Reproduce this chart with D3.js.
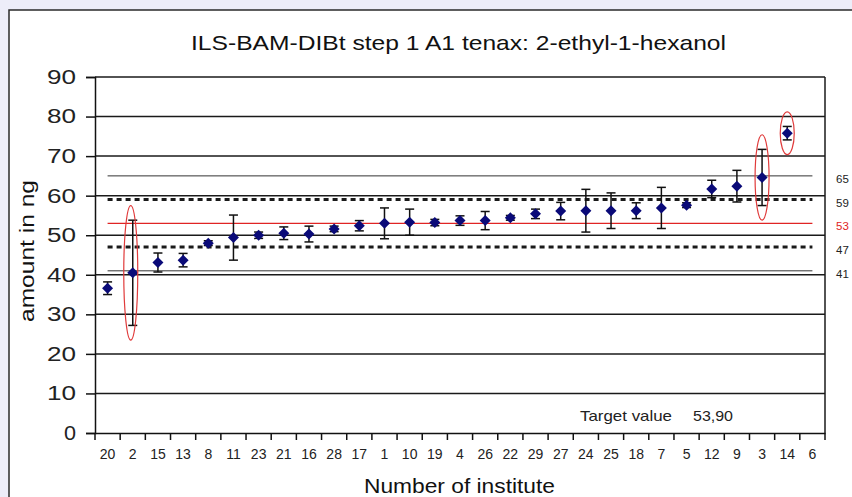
<!DOCTYPE html>
<html>
<head>
<meta charset="utf-8">
<script src="https://cdn.jsdelivr.net/npm/d3@7/dist/d3.min.js"></script>
<style>
  html, body { margin: 0; padding: 0; background: #ededf9; }
  svg { display: block; }
  text { font-family: "Liberation Sans", Arial, sans-serif; }
</style>
</head>
<body>
<svg id="chart" width="852" height="497"></svg>
<script>
const title = "ILS-BAM-DIBt step 1 A1 tenax: 2-ethyl-1-hexanol";
const categories = ["20","2","15","13","8","11","23","21","16","28","17","1","10","19","4","26","22","29","27","24","25","18","7","5","12","9","3","14","6"];
const means  = [36.6,40.5,43.1,43.7,48.0,49.4,50.0,50.5,50.3,51.6,52.4,53.0,53.3,53.2,53.7,53.7,54.4,55.4,56.1,56.2,56.2,56.2,56.9,57.6,61.7,62.4,64.6,75.8,null];
const errors = [1.6,13.3,2.4,1.7,0.6,5.7,0.8,1.6,2.0,0.7,1.3,3.9,3.3,0.8,1.2,2.3,0.6,1.2,2.2,5.4,4.5,2.0,5.2,0.6,2.2,4.0,7.1,1.7,null];
const yTicks = [0,10,20,30,40,50,60,70,80,90];
const refValues = [65,59,53,47,41];
const refKinds  = ["thin","dotted","target","dotted","thin"];
const outliers = ["2","3","14"];
const targetLabel = "Target value";
const targetText = "53,90";
const yTitle = "amount in ng";
const xTitle = "Number of institute";

const svg = d3.select("#chart");
const L = 95, R = 825, T = 77, B = 433;
const x = d3.scaleBand().domain(categories).range([L, R]).padding(0);
const y = d3.scaleLinear().domain([0, 90]).range([B, T]);
const cx = c => x(c) + x.bandwidth() / 2;

function fit(sel, len) { if (len) sel.attr("textLength", len).attr("lengthAdjust", "spacingAndGlyphs"); return sel; }

// frame
svg.append("rect").attr("x", 9).attr("y", 10).attr("width", 900).attr("height", 560)
  .attr("fill", "#ffffff").attr("stroke", "#2a2a2a").attr("stroke-width", 1.5);

// title
fit(svg.append("text").attr("x", 458.5).attr("y", 50).attr("text-anchor", "middle")
  .attr("font-size", 21).attr("fill", "#111").text(title), 535);

// gridlines
svg.append("g").selectAll("line").data(yTicks.filter(d => d > 0)).join("line")
  .attr("x1", L).attr("x2", R).attr("y1", d => y(d)).attr("y2", d => y(d))
  .attr("stroke", "#1a1a1a").attr("stroke-width", 1.5);
// right border
svg.append("line").attr("x1", R).attr("x2", R).attr("y1", T).attr("y2", B)
  .attr("stroke", "#1a1a1a").attr("stroke-width", 1.5);

// y axis
const yAxis = svg.append("g").attr("transform", `translate(${L},0)`)
  .call(d3.axisLeft(y).tickValues(yTicks).tickSize(9).tickPadding(10).tickFormat(d3.format("d")));
yAxis.select(".domain").attr("stroke", "#111").attr("stroke-width", 1.5);
yAxis.selectAll(".tick line").attr("stroke", "#111").attr("stroke-width", 1.5);
yAxis.selectAll(".tick text").attr("font-size", 20).attr("fill", "#222")
  .attr("font-family", "Liberation Sans, Arial, sans-serif")
  .each(function(d){ fit(d3.select(this), String(d).length === 2 ? 29 : 12); });

// x axis
const xAxis = svg.append("g").attr("transform", `translate(0,${B})`)
  .call(d3.axisBottom(x).tickSize(0).tickPadding(16));
xAxis.select(".domain").attr("stroke", "#111").attr("stroke-width", 1.5);
xAxis.selectAll(".tick text").attr("font-size", 14).attr("fill", "#222")
  .attr("font-family", "Liberation Sans, Arial, sans-serif");
const bounds = categories.map(c => x(c)).concat([R]);
svg.append("g").selectAll("line").data(bounds).join("line")
  .attr("x1", d => d).attr("x2", d => d).attr("y1", B).attr("y2", B + 7)
  .attr("stroke", "#111").attr("stroke-width", 1.5);

// reference lines
const x0 = cx(categories[0]), x1 = cx(categories[categories.length - 1]);
refValues.forEach((v, i) => {
  const k = refKinds[i];
  const ln = svg.append("line").attr("x1", x0).attr("x2", x1).attr("y1", y(v)).attr("y2", y(v));
  if (k === "thin") ln.attr("stroke", "#333").attr("stroke-width", 1);
  else if (k === "dotted") ln.attr("stroke", "#1a1a1a").attr("stroke-width", 3).attr("stroke-dasharray", "5,4");
  else ln.attr("stroke", "#e02424").attr("stroke-width", 1.3);
  svg.append("text").attr("x", 836).attr("y", y(v) + 7).attr("font-size", 11.5)
    .attr("fill", k === "target" ? "#e02424" : "#222").text(v);
});

// error bars
const pts = categories.map((c, i) => ({c, m: means[i], e: errors[i]})).filter(d => d.m != null);
const eb = svg.append("g").attr("stroke", "#111").attr("stroke-width", 1.5);
pts.forEach(d => {
  const xc = cx(d.c);
  eb.append("line").attr("x1", xc).attr("x2", xc).attr("y1", y(d.m - d.e)).attr("y2", y(d.m + d.e));
  [d.m - d.e, d.m + d.e].forEach(v => eb.append("line").attr("x1", xc - 4.5).attr("x2", xc + 4.5).attr("y1", y(v)).attr("y2", y(v)));
});

// diamonds
svg.append("g").selectAll("path").data(pts).join("path")
  .attr("d", d => { const X = cx(d.c), Y = y(d.m), h = 5.5; return `M${X},${Y-h}L${X+h},${Y}L${X},${Y+h}L${X-h},${Y}Z`; })
  .attr("fill", "#0a0a78");

// outlier ellipses
outliers.forEach(c => {
  const i = categories.indexOf(c);
  const ry = (y(0) - y(errors[i] + 3.7));
  svg.append("ellipse").attr("cx", cx(c) - (c === "2" ? 2 : 0)).attr("cy", y(means[i]))
    .attr("rx", Math.min(7, ry * 0.35)).attr("ry", ry)
    .attr("fill", "none").attr("stroke", "#e03a3a").attr("stroke-width", 1.2);
});

// target value
fit(svg.append("text").attr("x", 580).attr("y", 421).attr("font-size", 15).attr("fill", "#222").text(targetLabel), 92);
fit(svg.append("text").attr("x", 693).attr("y", 421).attr("font-size", 15).attr("fill", "#222").text(targetText), 40);

// axis titles
fit(svg.append("text").attr("x", 459.5).attr("y", 493).attr("text-anchor", "middle")
  .attr("font-size", 20).attr("fill", "#111").text(xTitle), 191);
fit(svg.append("text").attr("transform", "translate(34,251) rotate(-90)").attr("text-anchor", "middle")
  .attr("font-size", 20).attr("fill", "#111").text(yTitle), 142);
</script>
</body>
</html>
